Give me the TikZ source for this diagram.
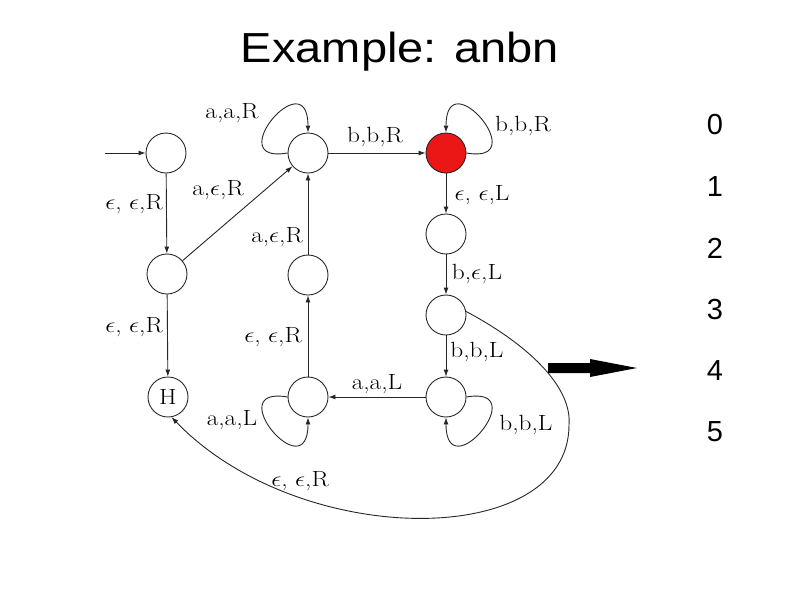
\documentclass[tikz,border=0pt]{standalone}
\usepackage{fix-cm}
\usepackage{fontspec}
\newfontfamily\arialfont{Liberation Sans}
\usetikzlibrary{arrows.meta}
\definecolor{statered}{RGB}{235,22,22}
\newcommand{\lbx}[1]{\scalebox{1.15}[1]{#1}}
\begin{document}
\begin{tikzpicture}[x=1pt,y=-1pt,
  st/.style={circle,draw=black!85,line width=0.9pt,minimum size=40pt,inner sep=0pt,font=\fontsize{22}{26}\selectfont},
  edge/.style={draw=black!85,line width=0.9pt,-{Latex[length=7pt,width=5pt]}},
  lab/.style={inner sep=0pt,font=\fontsize{22}{26}\selectfont},
  num/.style={inner sep=0pt,font=\arialfont\fontsize{29}{34}\selectfont}]
\useasboundingbox (0,0) rectangle (800,600);
% title
\node[inner sep=0pt,font=\arialfont\fontsize{42}{48}\selectfont] (title) at (400,52) {\scalebox{1.12}[1]{Example: anbn}};
% numbers
\node[num] (n0) at (715,125) {0};
\node[num] (n1) at (715,187) {1};
\node[num] (n2) at (715,248) {2};
\node[num] (n3) at (715,310) {3};
\node[num] (n4) at (715,371) {4};
\node[num] (n5) at (715,432) {5};
% states
\node[st] (q0) at (166,153) {};
\node[st] (q1) at (308,153) {};
\node[st,fill=statered] (q2) at (446,153) {};
\node[st] (q3) at (446,234) {};
\node[st] (q4) at (446,315) {};
\node[st] (q5) at (446,397) {};
\node[st] (q6) at (308,397) {};
\node[st] (q7) at (308,275) {};
\node[st] (qa) at (167,274) {};
\node[st] (H) at (168,397) {\lbx{H}};
\coordinate (start) at (105,153);
\coordinate (bend) at (569,425);
% edges
\draw[edge] (start) -- (q0);
\draw[edge] (q0) -- (qa);
\draw[edge] (qa) -- (H);
\draw[edge] (qa) -- (q1);
\draw[edge] (q1) -- (q2);
\draw[edge] (q2) -- (q3);
\draw[edge] (q3) -- (q4);
\draw[edge] (q4) -- (q5);
\draw[edge] (q5) -- (q6);
\draw[edge] (q6) -- (q7);
\draw[edge] (q7) -- (q1);
% loops
\draw[edge] (q1.west) .. controls +(-68,12) and +(0,-73) .. (q1.north);
\draw[edge] (q2.east) .. controls +(68,12) and +(0,-73) .. (q2.north);
\draw[edge] (q5.east) .. controls +(68,-12) and +(0,73) .. (q5.south);
\draw[edge] (q6.west) .. controls +(-68,-12) and +(0,73) .. (q6.south);
% big return curve
\draw[edge] (q4.10) .. controls +(69,37) and +(3,-35) .. (bend)
  .. controls +(0,125) and +(128,133) .. (H.-80);
% labels
\node[lab] (l1) at (232,113) {\lbx{a,a,R}};
\node[lab] (l2) at (375,137) {\lbx{b,b,R}};
\node[lab] (l3) at (523,126) {\lbx{b,b,R}};
\node[lab] (l4) at (482,195) {\lbx{$\epsilon$, $\epsilon$,L}};
\node[lab] (l5) at (477,274) {\lbx{b,$\epsilon$,L}};
\node[lab] (l6) at (477,352) {\lbx{b,b,L}};
\node[lab] (l7) at (377,384) {\lbx{a,a,L}};
\node[lab] (l8) at (526,425) {\lbx{b,b,L}};
\node[lab] (l9) at (300,481) {\lbx{$\epsilon$, $\epsilon$,R}};
\node[lab] (l10) at (232,420) {\lbx{a,a,L}};
\node[lab] (l11) at (273,337) {\lbx{$\epsilon$, $\epsilon$,R}};
\node[lab] (l12) at (134,327) {\lbx{$\epsilon$, $\epsilon$,R}};
\node[lab] (l13) at (134,204) {\lbx{$\epsilon$, $\epsilon$,R}};
\node[lab] (l14) at (218,190) {\lbx{a,$\epsilon$,R}};
\node[lab] (l15) at (277,237) {\lbx{a,$\epsilon$,R}};
% thick arrow
\fill[black] (548,363) -- (590,363) -- (590,359) -- (637,368) -- (590,377) -- (590,373) -- (548,373) -- cycle;
\end{tikzpicture}
\end{document}
